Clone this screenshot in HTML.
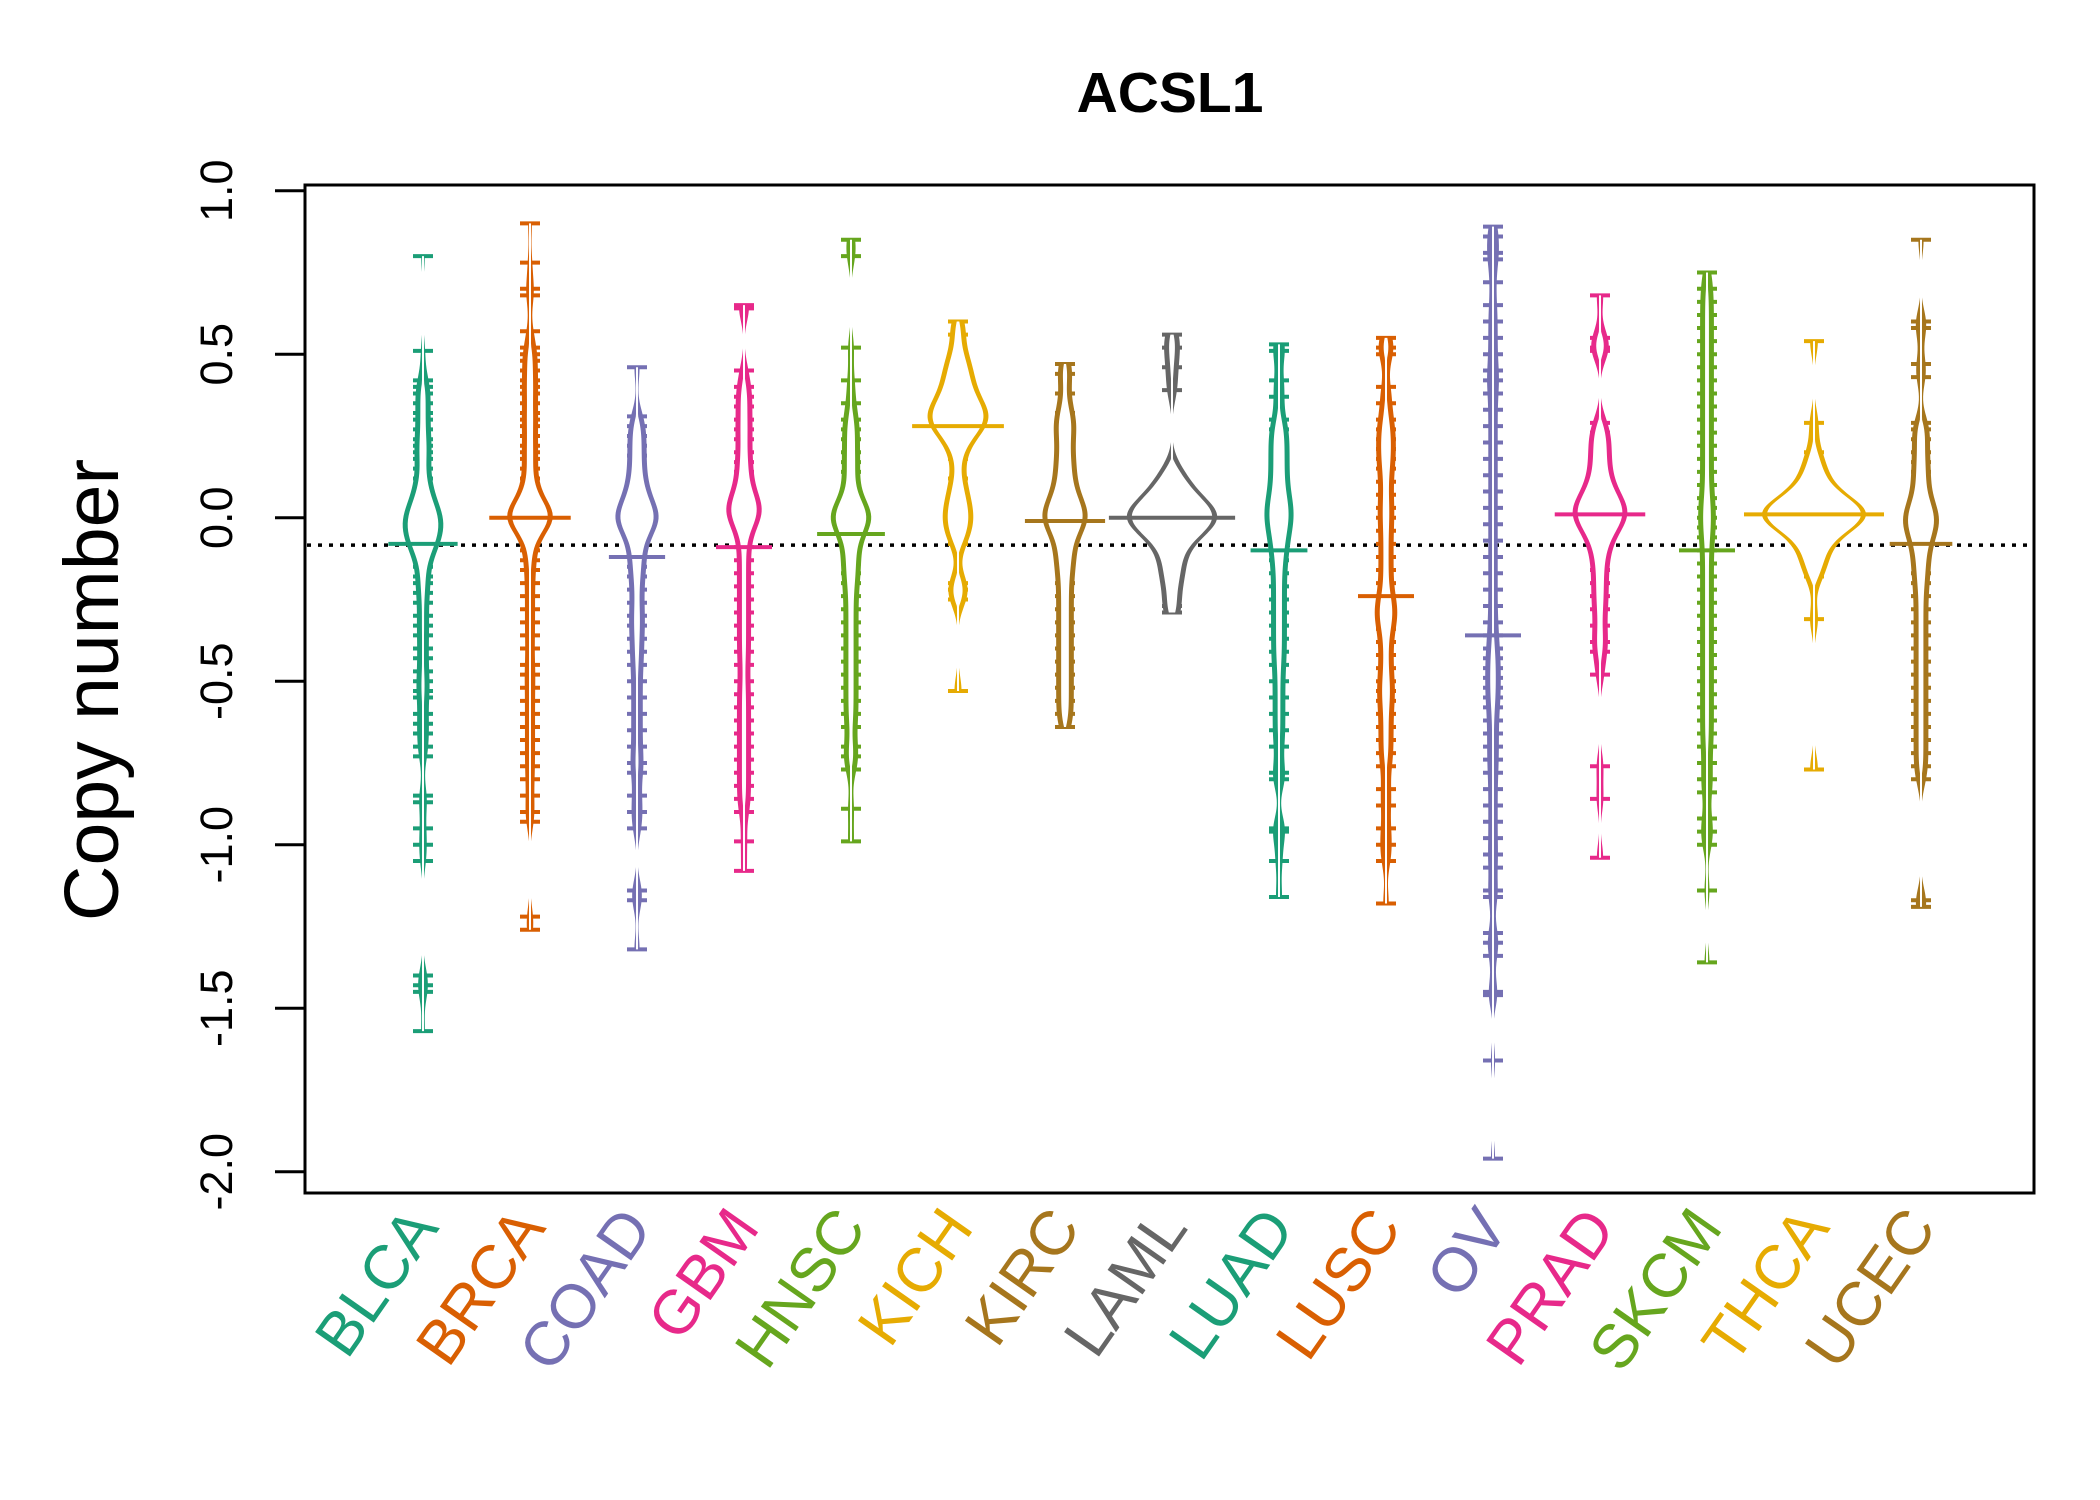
<!DOCTYPE html>
<html><head><meta charset="utf-8"><style>
html,body{margin:0;padding:0;background:#fff;}
svg{display:block;font-family:"Liberation Sans",sans-serif;}
</style></head><body>
<svg id="chart" width="2100" height="1500" viewBox="0 0 2100 1500" xmlns="http://www.w3.org/2000/svg">
<rect width="2100" height="1500" fill="#fff"/>
<text x="1170" y="112" font-size="57" font-weight="bold" text-anchor="middle">ACSL1</text>
<text transform="translate(118,690) rotate(-90)" font-size="77" text-anchor="middle">Copy number</text>
<g id="beans"></g>
<g id="axis"></g>
<g id="xlabels"></g>
<rect x="305" y="185" width="1729" height="1008" fill="none" stroke="#000" stroke-width="3"/>
</svg>
<script>
const categories=["BLCA","BRCA","COAD","GBM","HNSC","KICH","KIRC","LAML","LUAD","LUSC","OV","PRAD","SKCM","THCA","UCEC"];
const colors=["#1B9E77","#D95F02","#7570B3","#E7298A","#66A61E","#E6AB02","#A6761D","#666666","#1B9E77","#D95F02","#7570B3","#E7298A","#66A61E","#E6AB02","#A6761D"];
const yTicks=[1.0,0.5,0.0,-0.5,-1.0,-1.5,-2.0];
const yTickLabels=["1.0","0.5","0.0","-0.5","-1.0","-1.5","-2.0"];
const refLine=-0.084;
const vBLCA=[0.80,0.51,0.42,0.40,0.38,0.35,0.32,0.30,0.27,0.24,0.22,0.2,0.18,0.15,0.12,0.1,0.08,0.06,0.05,0.03,0.02,0.01,0,0,-0.01,-0.02,-0.03,-0.04,-0.05,-0.06,-0.07,-0.08,-0.09,-0.1,-0.12,-0.15,-0.18,-0.2,-0.23,-0.26,-0.3,-0.33,-0.36,-0.4,-0.43,-0.47,-0.5,-0.53,-0.55,-0.6,-0.63,-0.66,-0.7,-0.73,-0.85,-0.87,-0.95,-1.0,-1.05,-1.4,-1.43,-1.45,-1.57];
const vBRCA=[0.90,0.78,0.70,0.68,0.57,0.52,0.50,0.48,0.45,0.42,0.40,0.38,0.35,0.32,0.3,0.28,0.25,0.22,0.2,0.18,0.15,0.12,0.1,0.08,0.06,0.04,0.03,0.02,0.01,0,0,0,0,0.01,-0.01,-0.02,-0.03,-0.05,-0.07,-0.1,-0.13,-0.16,-0.2,-0.24,-0.28,-0.32,-0.36,-0.4,-0.45,-0.48,-0.52,-0.56,-0.6,-0.64,-0.68,-0.72,-0.76,-0.8,-0.85,-0.9,-0.93,-1.22,-1.26];
const vCOAD=[0.46,0.31,0.28,0.25,0.22,0.19,0.16,0.13,0.1,0.08,0.06,0.04,0.02,0.01,0,0,-0.01,-0.02,-0.04,-0.06,-0.09,-0.12,-0.15,-0.18,-0.22,-0.26,-0.3,-0.33,-0.37,-0.41,-0.45,-0.5,-0.55,-0.6,-0.65,-0.7,-0.75,-0.78,-0.85,-0.9,-0.95,-1.14,-1.17,-1.32];
const vGBM=[0.65,0.64,0.45,0.4,0.37,0.34,0.3,0.27,0.24,0.2,0.17,0.14,0.11,0.08,0.06,0.04,0.03,0.02,0.01,0,-0.02,-0.05,-0.09,-0.13,-0.17,-0.21,-0.25,-0.29,-0.33,-0.37,-0.41,-0.45,-0.5,-0.54,-0.58,-0.62,-0.66,-0.7,-0.74,-0.78,-0.82,-0.86,-0.9,-0.99,-1.08];
const vHNSC=[0.85,0.8,0.52,0.42,0.35,0.3,0.27,0.24,0.2,0.17,0.14,0.1,0.07,0.04,0.02,0.01,0,0,-0.01,-0.03,-0.05,-0.08,-0.11,-0.14,-0.17,-0.2,-0.24,-0.28,-0.32,-0.36,-0.4,-0.44,-0.48,-0.52,-0.56,-0.6,-0.64,-0.7,-0.73,-0.77,-0.89,-0.99];
const vKICH=[0.6,0.56,0.5,0.47,0.45,0.42,0.4,0.38,0.36,0.34,0.33,0.32,0.31,0.3,0.29,0.28,0.27,0.25,0.22,0.18,0.12,0.08,0.05,0.02,0,-0.02,-0.05,-0.08,-0.2,-0.22,-0.25,-0.53];
const vKIRC=[0.47,0.44,0.38,0.32,0.3,0.27,0.24,0.2,0.17,0.14,0.11,0.08,0.06,0.04,0.02,0.01,0,-0.01,-0.02,-0.04,-0.07,-0.1,-0.13,-0.16,-0.2,-0.24,-0.28,-0.32,-0.36,-0.4,-0.44,-0.48,-0.52,-0.56,-0.6,-0.64];
const vLAML=[0.56,0.52,0.46,0.39,0.15,0.12,0.1,0.08,0.06,0.05,0.04,0.03,0.02,0.01,0,0,0,-0.01,-0.02,-0.03,-0.04,-0.05,-0.07,-0.09,-0.12,-0.15,-0.18,-0.21,-0.27,-0.29];
const vLUAD=[0.53,0.51,0.42,0.37,0.3,0.27,0.24,0.21,0.18,0.15,0.12,0.09,0.06,0.04,0.02,0,-0.02,-0.04,-0.07,-0.1,-0.13,-0.17,-0.21,-0.25,-0.29,-0.33,-0.37,-0.41,-0.45,-0.5,-0.55,-0.6,-0.65,-0.7,-0.78,-0.8,-0.95,-0.96,-1.05,-1.16];
const vLUSC=[0.55,0.52,0.5,0.4,0.35,0.3,0.27,0.24,0.21,0.18,0.15,0.11,0.07,0.03,0,-0.04,-0.08,-0.12,-0.16,-0.2,-0.24,-0.27,-0.29,-0.31,-0.34,-0.38,-0.42,-0.46,-0.5,-0.53,-0.56,-0.6,-0.64,-0.68,-0.72,-0.76,-0.83,-0.88,-0.95,-1.0,-1.05,-1.18];
const vOV=[0.89,0.86,0.81,0.79,0.72,0.65,0.6,0.55,0.5,0.45,0.42,0.38,0.33,0.28,0.23,0.18,0.13,0.08,0.03,-0.02,-0.07,-0.12,-0.17,-0.22,-0.27,-0.32,-0.36,-0.4,-0.43,-0.46,-0.49,-0.52,-0.55,-0.58,-0.62,-0.66,-0.7,-0.74,-0.78,-0.83,-0.88,-0.93,-0.98,-1.03,-1.07,-1.14,-1.16,-1.27,-1.3,-1.34,-1.45,-1.46,-1.66,-1.96];
const vPRAD=[0.68,0.55,0.52,0.51,0.29,0.26,0.23,0.2,0.17,0.14,0.11,0.09,0.07,0.05,0.04,0.03,0.02,0.01,0,-0.01,-0.02,-0.04,-0.06,-0.09,-0.12,-0.16,-0.2,-0.24,-0.28,-0.33,-0.38,-0.41,-0.48,-0.76,-0.86,-1.04];
const vSKCM=[0.75,0.7,0.66,0.62,0.58,0.54,0.5,0.46,0.42,0.38,0.34,0.3,0.26,0.22,0.18,0.14,0.1,0.06,0.03,0,-0.03,-0.06,-0.1,-0.14,-0.18,-0.22,-0.26,-0.3,-0.34,-0.38,-0.42,-0.46,-0.5,-0.54,-0.58,-0.62,-0.66,-0.7,-0.75,-0.8,-0.84,-0.92,-0.96,-1.0,-1.14,-1.36];
const vTHCA=[0.54,0.29,0.2,0.16,0.13,0.1,0.08,0.06,0.05,0.04,0.03,0.02,0.02,0.01,0.01,0,0,0,-0.01,-0.02,-0.03,-0.05,-0.07,-0.09,-0.12,-0.15,-0.18,-0.31,-0.77];
const vUCEC=[0.85,0.6,0.58,0.47,0.43,0.29,0.27,0.24,0.2,0.17,0.14,0.11,0.08,0.05,0.03,0.01,0,-0.01,-0.02,-0.04,-0.06,-0.08,-0.11,-0.14,-0.17,-0.2,-0.24,-0.28,-0.32,-0.36,-0.4,-0.44,-0.48,-0.52,-0.56,-0.6,-0.64,-0.68,-0.72,-0.76,-0.8,-1.17,-1.19];
const seriesValues=[vBLCA,vBRCA,vCOAD,vGBM,vHNSC,vKICH,vKIRC,vLAML,vLUAD,vLUSC,vOV,vPRAD,vSKCM,vTHCA,vUCEC];

const NS="http://www.w3.org/2000/svg";
const X0=423,XSTEP=107,Y0=517.7,YUNIT=327;
function xScale(i){return X0+i*XSTEP;}
function yScale(v){return Y0-v*YUNIT;}
function mk(tag,attrs,parent){const e=document.createElementNS(NS,tag);for(const k in attrs)e.setAttribute(k,attrs[k]);parent.appendChild(e);return e;}

const axis=document.getElementById('axis');
mk('line',{x1:305,x2:305,y1:yScale(1),y2:yScale(-2),stroke:'#000','stroke-width':3},axis);
yTicks.forEach((t,i)=>{
  const tk=mk('line',{x1:275,x2:305,y1:yScale(t),y2:yScale(t),stroke:'#000','stroke-width':3},axis);
  
  
  const lb=mk('text',{transform:`translate(232,${yScale(t)}) rotate(-90)`,'font-size':45,'text-anchor':'middle'},axis);
  lb.textContent=yTickLabels[i];
  
  
});

const beans=document.getElementById('beans');
const rl=mk('line',{x1:307,x2:2032,y1:yScale(refLine),y2:yScale(refLine),stroke:'#000','stroke-width':3.5,'stroke-dasharray':'4,7'},beans);



const BW=0.045;
function kde(vals,y){let s=0;for(const v of vals){const z=(y-v)/BW;s+=Math.exp(-0.5*z*z);}return s/(vals.length*BW*Math.sqrt(2*Math.PI));}
const dens=seriesValues.map(vals=>{const mn=Math.min(...vals),mx=Math.max(...vals);const pts=[];for(let k=0;k<=200;k++){const y=mn+(mx-mn)*k/200;pts.push([y,kde(vals,y)]);}return pts;});
let gmax=0;dens.forEach(p=>p.forEach(q=>{if(q[1]>gmax)gmax=q[1];}));
const SC=52/gmax;

function polyPts(cx,pts,f){
  const r=pts.map(p=>`${cx+f(p[1])},${yScale(p[0])}`);
  const l=pts.slice().reverse().map(p=>`${cx-f(p[1])},${yScale(p[0])}`);
  return r.concat(l).join(' ');
}

seriesValues.forEach((vals,i)=>{
  const g=mk('g',{},beans);
  
  
  const cx=xScale(i),col=colors[i];
  vals.forEach(v=>{
    const d=mk('line',{x1:cx-10,x2:cx+10,y1:yScale(v),y2:yScale(v),stroke:col,'stroke-width':4},g);
    
    
  });
  const pts=dens[i];
  const outer=mk('polygon',{points:polyPts(cx,pts,d=>d*SC),fill:col},g);
  
  
  const inner=mk('polygon',{points:polyPts(cx,pts,d=>Math.max(1,d*SC-5)),fill:'#fff'},g);
  
  
  const sorted=vals.slice().sort((a,b)=>a-b);
  const med=sorted[Math.floor(sorted.length/2)];
  const hw=Math.max(kde(vals,med)*SC,10)+18;
  const ml=mk('line',{x1:cx-hw,x2:cx+hw,y1:yScale(med),y2:yScale(med),stroke:col,'stroke-width':4},g);
  
  
});

const xl=document.getElementById('xlabels');
categories.forEach((c,i)=>{
  const t=mk('text',{transform:`translate(${xScale(i)+17},1228) rotate(-55)`,'font-size':62,'text-anchor':'end',fill:colors[i]},xl);
  t.textContent=c;
  
  
});
</script>
</body></html>
